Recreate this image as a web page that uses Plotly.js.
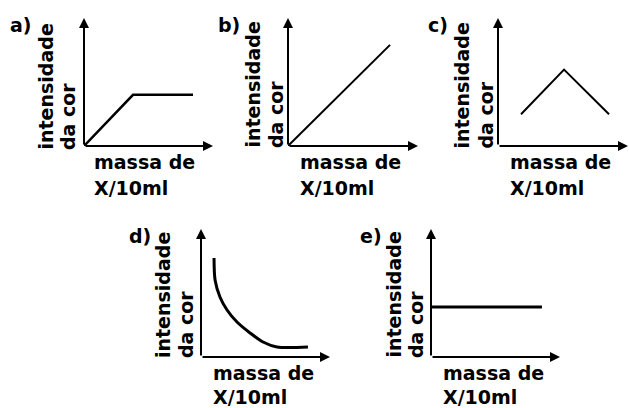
<!DOCTYPE html>
<html><head><meta charset="utf-8">
<script src="https://cdn.plot.ly/plotly-3.0.1.min.js"></script>
<style>html,body{margin:0;padding:0;background:#fff}#chart{width:629px;height:408px}</style>
</head><body><div id="chart"></div>
<script>
// ---- data (axis units 0..10) ----
const panelLetters = ['a)', 'b)', 'c)', 'd)', 'e)'];
const yLabelLines = ['intensidade', 'da cor'];
const xLabelLines = ['massa de', 'X/10ml'];

const aX = [0, 3.8, 8.45];
const aY = [0, 4.0, 4.0];
const bX = [0, 7.85];
const bY = [0, 7.9];
const cX = [1.77, 5.08, 8.54];
const cY = [2.48, 5.97, 2.48];
const dX = [1.01, 1.09, 1.47, 2.02, 2.79, 3.80, 4.81, 5.89, 8.29];
const dY = [7.73, 6.02, 4.69, 3.67, 2.73, 1.88, 1.17, 0.78, 0.78];
const eX = [0, 8.6];
const eY = [3.9, 3.9];

const seriesX = [aX, bX, cX, dX, eX];
const seriesY = [aY, bY, cY, dY, eY];

// ---- layout geometry (pixels) ----
const W = 629, H = 408;
const geo = [
  {ox: 84,  oy: 146, w: 129, h: 128, lw: 2.5, lbl: -74, y1: -38.5, y2: -16.5, yb: 3, xl: 10,   b1: 24,   b2: 50.5, shape: 'linear'},
  {ox: 288, oy: 146, w: 130, h: 128, lw: 2,   lbl: -70, y1: -35.5, y2: -12.5, yb: 1, xl: 11.5, b1: 24,   b2: 50.5, shape: 'linear'},
  {ox: 498, oy: 146, w: 130, h: 128, lw: 2,   lbl: -70, y1: -36.5, y2: -13,   yb: 2, xl: 12,   b1: 24,   b2: 50.5, shape: 'linear'},
  {ox: 201, oy: 357, w: 129, h: 128, lw: 3,   lbl: -72, y1: -38,   y2: -15.5, yb: 0, xl: 11.5, b1: 24.5, b2: 48,   shape: 'spline'},
  {ox: 431, oy: 357, w: 129, h: 128, lw: 3,   lbl: -71, y1: -37.5, y2: -15.5, yb: 0, xl: 11.5, b1: 24.5, b2: 48,   shape: 'linear'}
];
const px = x => x / W;
const py = y => 1 - y / H;
const FS = 19;
const FONT = {family: '"DejaVu Sans", Verdana, sans-serif', size: FS, color: '#000', weight: 'bold'};
const MID = 0.346 * FS + 1.5; // baseline -> text box centre

const traces = [];
const layout = {
  width: W, height: H,
  margin: {l: 0, r: 0, t: 0, b: 0},
  paper_bgcolor: '#fff', plot_bgcolor: 'rgba(0,0,0,0)',
  showlegend: false,
  annotations: []
};

geo.forEach((g, i) => {
  const n = i === 0 ? '' : String(i + 1);
  const xa = 'x' + n, ya = 'y' + n;
  traces.push({
    x: seriesX[i], y: seriesY[i], xaxis: xa, yaxis: ya,
    type: 'scatter', mode: 'lines', hoverinfo: 'skip',
    line: {color: '#000', width: g.lw, shape: g.shape, smoothing: 0.8}
  });
  const axBase = {range: [0, 10], showgrid: false, zeroline: false, showline: false,
    showticklabels: false, ticks: '', fixedrange: true};
  layout['xaxis' + n] = Object.assign({}, axBase, {domain: [px(g.ox), px(g.ox + g.w)], anchor: ya});
  layout['yaxis' + n] = Object.assign({}, axBase, {domain: [py(g.oy), py(g.oy - g.h)], anchor: xa});

  const arrow = {xref: xa, yref: ya, axref: xa, ayref: ya, ax: 0, ay: 0, text: '',
    showarrow: true, arrowhead: 2, arrowsize: 1, arrowwidth: 2, arrowcolor: '#000',
    standoff: 0, startstandoff: 0};
  layout.annotations.push(Object.assign({}, arrow, {x: 0, y: 10}));
  layout.annotations.push(Object.assign({}, arrow, {x: 10, y: 0}));

  const txt = {xref: 'paper', yref: 'paper', showarrow: false, font: FONT, borderpad: 0, borderwidth: 0};
  layout.annotations.push(Object.assign({}, txt, {text: panelLetters[i],
    x: px(g.ox + g.lbl), y: py(g.oy - 113 - MID), xanchor: 'left', yanchor: 'middle'}));
  layout.annotations.push(Object.assign({}, txt, {text: yLabelLines[0], textangle: -90,
    x: px(g.ox + g.y1), y: py(g.oy + g.yb + 1), xanchor: 'center', yanchor: 'bottom'}));
  layout.annotations.push(Object.assign({}, txt, {text: yLabelLines[1], textangle: -90,
    x: px(g.ox + g.y2), y: py(g.oy + g.yb + 1), xanchor: 'center', yanchor: 'bottom'}));
  layout.annotations.push(Object.assign({}, txt, {text: xLabelLines[0],
    x: px(g.ox + g.xl), y: py(g.oy + g.b1 - MID), xanchor: 'left', yanchor: 'middle'}));
  layout.annotations.push(Object.assign({}, txt, {text: xLabelLines[1],
    x: px(g.ox + g.xl), y: py(g.oy + g.b2 - MID), xanchor: 'left', yanchor: 'middle'}));
});

Plotly.newPlot('chart', traces, layout, {staticPlot: true, displayModeBar: false});
</script>
</body></html>
